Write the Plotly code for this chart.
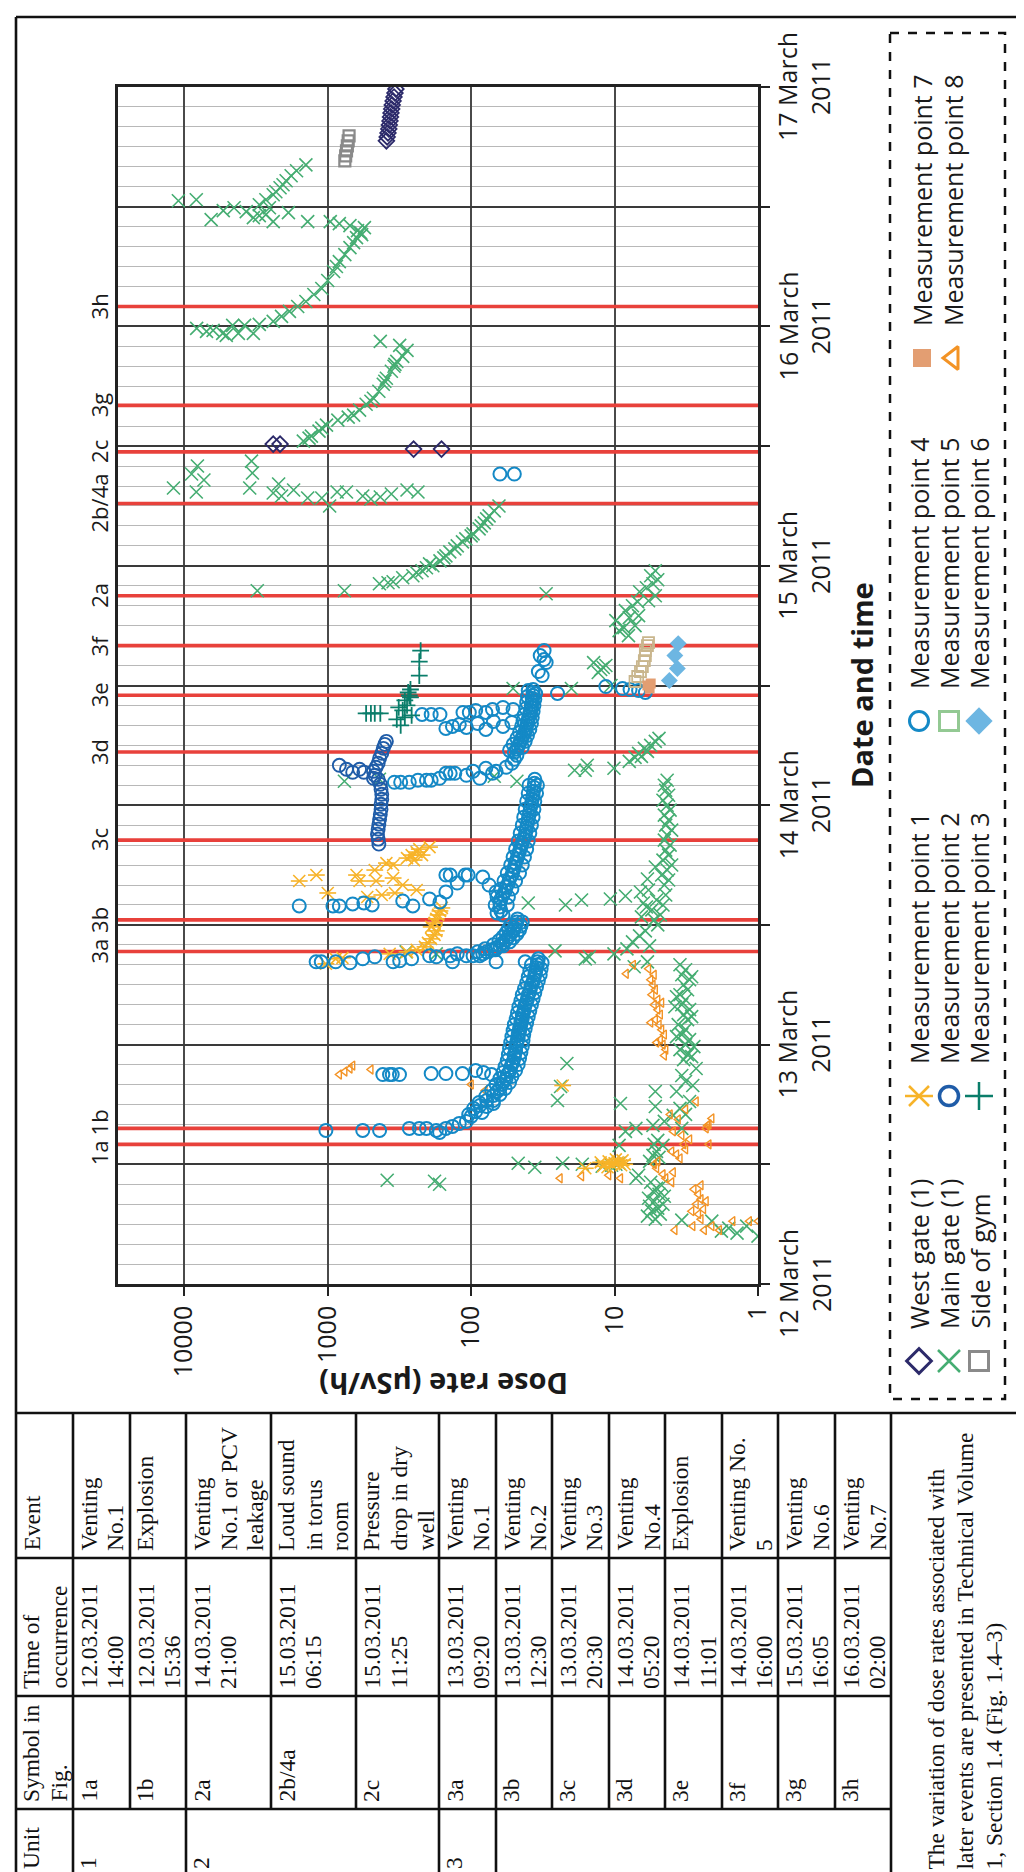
import math
from datetime import datetime, timedelta
import plotly.graph_objects as go

W, H = 1024, 1872
BASE = datetime(2011, 3, 12)

# ---------------- data (hours after 12 March 2011 00:00, dose rate in uSv/h) ----------------
main_gate = [
    (4.8, 1.0), (5.1, 1.4), (5.3, 1.8), (5.6, 1.6), (5.8, 1.2), (6.3, 2.1), (6.4, 3.4),
    (6.5, 5.2), (6.8, 5.9), (7.0, 4.8), (7.3, 5.5), (7.6, 5.0), (7.8, 5.7), (8.0, 4.6), (8.3, 5.3),
    (8.6, 5.8), (8.8, 4.5), (9.0, 4.9), (9.3, 5.4), (9.6, 5.1), (9.9, 4.7), (10.2, 5.6),
    (10.0, 166), (10.3, 180), (10.4, 385),
    (10.6, 7.1), (10.9, 6.8), (11.7, 36), (11.8, 12.2), (11.9, 10.5), (12.0, 9.8), (12.0, 16.8),
    (12.1, 23), (12.1, 47), (12.1, 9.3),
    (12.3, 5.7), (12.7, 4.9), (12.9, 5.4), (13.3, 5.1), (13.9, 4.6), (13.9, 9.3), (14.0, 5.3),
    (14.4, 5.0), (15.3, 8.4), (15.6, 7.1), (15.9, 5.4),
    (15.6, 3.4), (16.3, 4.5), (16.9, 3.9), (17.0, 3.2), (17.6, 3.5), (17.8, 5.2), (18.1, 9.1),
    (18.3, 3.0), (19.3, 3.7), (19.3, 5.2), (19.9, 2.85), (20.3, 3.2), (20.9, 3.4), (21.6, 2.7),
    (18.4, 25), (19.8, 23.8), (22.1, 21.5),
    (22.5, 3.3), (22.8, 2.9), (23.0, 3.1), (23.5, 3.5), (23.8, 2.8), (24.0, 3.2), (24.5, 3.0),
    (24.8, 3.7), (25.0, 3.4), (25.5, 3.2), (26.0, 3.6), (26.5, 3.1), (26.8, 2.9), (27.0, 3.3),
    (27.5, 3.0), (27.8, 3.8), (28.0, 3.4), (28.5, 3.2), (28.8, 3.7), (29.0, 3.5), (29.5, 3.1),
    (30.0, 3.3), (30.5, 3.0), (30.8, 2.9), (31.0, 3.4), (31.5, 3.2), (32.0, 3.5),
    (31.8, 7.3), (32.3, 5.9), (32.6, 16), (32.8, 15), (33.1, 10.1), (33.4, 26), (33.1, 175), (33.3, 284),
    (33.6, 8.2), (33.9, 5.7), (34.3, 7.5), (34.9, 6.7), (35.4, 6.1),
    (36.0, 5.0), (36.5, 5.3), (36.8, 6.5), (37.0, 4.8), (37.5, 5.5), (37.8, 6.0), (38.0, 4.6),
    (38.2, 6.3), (38.5, 5.1), (39.0, 4.4), (39.3, 6.6), (39.5, 5.8), (40.0, 4.5), (40.5, 4.2),
    (40.6, 5.9), (41.0, 4.7), (41.5, 4.3), (41.8, 5.2), (42.0, 4.0), (42.5, 4.6), (43.0, 4.2),
    (43.5, 4.4), (44.0, 4.1), (44.5, 4.5), (45.0, 4.3), (45.5, 4.0), (46.0, 4.4), (46.5, 4.2),
    (47.0, 4.5), (47.5, 4.1), (48.0, 4.3), (48.5, 4.6), (49.0, 4.2), (49.5, 4.4), (50.0, 4.5), (50.5, 4.3),
    (38.0, 22), (38.2, 40), (38.5, 17), (38.6, 10.7), (38.9, 8.4),
    (50.4, 48), (50.4, 765), (50.6, 436), (50.9, 69),
    (51.5, 19), (51.5, 16), (51.7, 10.1), (52.0, 15.5), (52.4, 7.9), (52.8, 7.2), (52.9, 6.5),
    (53.2, 6.8), (53.4, 5.9), (53.7, 6.2), (54.0, 5.6), (54.4, 5.2), (54.7, 4.9),
    (59.7, 51), (59.7, 20), (60.0, 10.6), (61.3, 13), (61.6, 12.5), (61.8, 12), (62.0, 11.5), (62.3, 14),
    (65.0, 8.0), (65.5, 9.3), (65.8, 8.6), (66.0, 7.2), (66.5, 9.8), (66.8, 7.9), (67.0, 6.8),
    (67.5, 8.4), (68.0, 7.5), (68.4, 6.9),
    (68.5, 5.8), (69.0, 5.2), (69.4, 6.7), (69.8, 6.0), (70.2, 5.4), (70.6, 5.0), (71.0, 5.6),
    (71.5, 5.2), (69.2, 30),
    (69.5, 3100), (69.5, 765), (70.2, 436), (70.3, 380), (70.4, 350),
    (70.8, 300), (71.0, 255), (71.3, 240), (71.5, 220), (71.8, 205), (72.0, 185), (72.2, 195),
    (72.5, 165), (72.8, 155), (73.0, 150), (73.4, 141), (73.7, 130), (74.0, 125), (74.4, 115),
    (74.7, 109), (75.0, 100), (75.2, 97), (75.7, 88), (76.0, 85), (76.3, 81), (76.7, 78),
    (77.0, 75), (77.5, 69), (78.0, 64),
    (78.0, 970), (78.7, 500), (78.8, 1380), (78.8, 1100), (78.9, 430), (79.0, 2100), (79.0, 570),
    (79.2, 360), (79.3, 2400), (79.4, 8250), (79.4, 860), (79.4, 740), (79.4, 235), (79.6, 1730),
    (79.6, 280), (79.8, 11900), (79.8, 3500), (80.2, 2200), (80.6, 7300), (81.2, 8900),
    (81.3, 3350), (82.0, 8100), (82.5, 3400),
    (84.5, 1480), (84.8, 1350), (85.0, 1300), (85.5, 1150), (85.8, 1100), (86.1, 1020),
    (86.6, 850), (86.9, 720), (87.1, 660), (87.6, 600), (88.2, 540), (88.5, 500), (88.8, 480),
    (89.5, 440), (90.2, 410), (90.5, 400), (90.8, 390), (91.5, 360), (92.0, 345), (92.2, 340),
    (92.5, 330), (93.0, 300), (93.6, 280), (94.1, 315), (94.5, 430),
    (95.1, 5100), (95.3, 5400), (95.3, 4200), (95.3, 3300), (95.5, 7000), (95.6, 6300),
    (95.8, 8200), (96.1, 4600), (96.1, 3800), (96.2, 3000),
    (96.5, 2400), (97.0, 2100), (97.5, 1850), (98.0, 1620), (98.5, 1420), (99.2, 1250),
    (99.8, 1100), (100.6, 1000), (101.5, 910), (102.0, 870), (102.5, 830), (103.2, 760),
    (103.9, 700), (104.4, 660), (104.9, 630), (105.2, 580), (105.4, 590), (105.6, 620),
    (105.9, 555), (106.1, 700), (106.3, 830), (106.5, 960),
    (106.5, 1380), (106.5, 2400), (106.7, 6500), (106.9, 3300), (107.1, 3000), (107.2, 2700),
    (107.4, 1880), (107.5, 3700), (107.6, 5350), (107.9, 4500), (107.9, 2550), (108.6, 11000),
    (108.7, 8250),
    (108.2, 3000), (108.7, 2700), (109.2, 2400), (109.5, 2300), (109.9, 2150), (110.2, 2050),
    (110.6, 1950), (111.1, 1800), (111.6, 1650), (112.2, 1420),
]

mp4 = [
    (15.4, 1030), (15.4, 570), (15.4, 435), (15.6, 270), (15.6, 230), (15.6, 205), (15.4, 175),
    (15.2, 166), (15.6, 150), (15.8, 135), (16.1, 121), (16.3, 108),
    (16.8, 100), (17.3, 93), (17.9, 87), (18.1, 70), (18.4, 78), (18.9, 70), (19.3, 66), (19.6, 63),
    (20.0, 61), (20.3, 59), (20.6, 57), (21.0, 56), (21.3, 54), (21.7, 53), (22.0, 52), (22.3, 51),
    (22.7, 50), (23.0, 50), (23.3, 49), (23.7, 49), (24.0, 48), (24.3, 48), (24.6, 47), (25.0, 47),
    (25.3, 46), (25.6, 46), (26.0, 45), (26.3, 45), (26.6, 44), (27.0, 44), (27.3, 43), (27.7, 42.5),
    (28.0, 42), (28.3, 41), (28.6, 40.5), (29.0, 40), (29.3, 39), (29.7, 38.5), (30.0, 38), (30.3, 37),
    (30.6, 36.5), (31.0, 36), (31.3, 35.5), (31.7, 35), (32.0, 34.5), (32.3, 34.5), (32.6, 34), (32.3, 42),
    (17.0, 104), (17.6, 96), (18.2, 88), (18.8, 79), (19.4, 72), (20.0, 67), (20.6, 63), (21.2, 60),
    (21.8, 58), (22.4, 56), (23.0, 55), (23.6, 54), (24.2, 53), (24.8, 52), (25.4, 51), (26.0, 50),
    (26.6, 48.5), (27.2, 47.5), (27.8, 46.5), (28.4, 45), (29.0, 44), (29.6, 42.5), (30.2, 41),
    (30.8, 40), (31.4, 39), (32.0, 38),
    (17.2, 84), (17.8, 78), (18.4, 70), (19.0, 63), (19.6, 58), (20.2, 54), (20.8, 52), (21.4, 49),
    (22.0, 47), (22.6, 46), (23.2, 45), (23.8, 44), (24.4, 43.5), (25.0, 43), (25.6, 42), (26.2, 41),
    (26.8, 40), (27.4, 39), (28.0, 38), (28.6, 37), (29.2, 36), (29.8, 35), (30.4, 34), (31.0, 33),
    (31.6, 32.5), (32.2, 32),
    (21.0, 413), (21.0, 371), (21.0, 355), (21.0, 316), (21.1, 190), (21.1, 150), (21.1, 115),
    (21.4, 93), (21.2, 82), (21.0, 72),
    (32.3, 1205), (32.3, 1110), (32.3, 880), (32.2, 700), (32.6, 570), (32.8, 470), (32.3, 350),
    (32.4, 315), (32.6, 260), (32.9, 195), (32.8, 175), (32.9, 140), (32.3, 135), (33.1, 125),
    (32.9, 108), (32.9, 97), (32.9, 87), (32.3, 67),
    (33.1, 83), (33.3, 78), (33.5, 72), (33.7, 67), (33.9, 63), (34.2, 60), (34.5, 57), (34.8, 55),
    (35.1, 53), (35.4, 51), (35.7, 50), (36.0, 49), (36.3, 48), (36.6, 47.5),
    (33.3, 90), (33.6, 80), (34.0, 70), (34.4, 64), (34.8, 60), (35.2, 57), (35.6, 55), (36.0, 53),
    (33.5, 68), (33.9, 60), (34.3, 54), (34.7, 51), (35.1, 48), (35.5, 46), (35.9, 45), (36.3, 44),
    (37.9, 1580), (37.9, 920), (37.9, 830), (38.1, 670), (38.2, 560), (38.0, 490), (38.4, 300),
    (37.9, 255), (38.6, 195), (38.3, 165), (39.3, 150), (41.0, 140), (41.0, 150), (40.2, 125),
    (41.0, 110), (41.0, 105), (40.8, 83), (40.0, 75), (39.3, 67),
    (37.0, 60), (37.4, 62), (37.8, 63), (38.2, 63), (38.6, 62), (39.0, 60), (39.4, 58), (39.8, 57),
    (40.2, 55), (40.6, 54), (41.0, 52), (41.4, 51), (41.8, 50), (42.2, 49), (42.6, 48), (43.0, 47),
    (43.4, 46), (43.8, 45), (44.2, 44), (44.6, 43), (45.0, 42), (45.4, 41.5), (45.8, 41), (46.2, 40.5),
    (46.6, 40), (47.0, 39.5), (47.4, 39), (47.8, 38.5), (48.2, 38), (48.6, 37.5), (49.0, 37),
    (49.4, 36.8), (49.8, 36.5), (50.2, 36.2), (50.6, 36),
    (37.2, 66), (38.0, 68), (38.8, 66), (39.6, 62), (40.4, 59), (41.2, 56), (42.0, 53), (42.8, 51),
    (43.6, 49), (44.4, 47), (45.2, 45.5), (46.0, 44), (46.8, 43), (47.6, 42), (48.4, 41), (49.2, 40),
    (50.0, 39.5),
    (38.0, 56), (38.8, 55), (39.6, 52), (40.4, 49), (41.2, 46), (42.0, 44), (42.8, 42.5), (43.6, 41),
    (44.4, 40), (45.2, 39), (46.0, 38), (46.8, 37), (47.6, 36.5), (48.4, 36), (49.2, 35), (50.0, 34.5),
    (50.3, 343), (50.3, 310), (50.3, 270), (50.5, 235), (50.5, 205), (50.5, 190), (50.7, 166),
    (51.2, 150), (51.2, 140), (51.2, 130), (51.0, 108), (51.4, 97), (50.7, 87), (51.7, 79),
    (51.2, 71), (51.4, 67), (51.8, 57), (52.2, 52), (52.6, 50), (53.0, 48),
    (53.3, 50), (53.6, 48), (53.9, 47), (54.2, 46), (54.5, 45), (54.8, 44), (55.1, 43), (55.4, 42),
    (55.7, 41.5), (56.0, 41), (56.3, 40.5), (56.6, 40), (56.9, 39.5), (57.2, 39), (57.5, 38.5),
    (57.8, 38), (58.1, 38), (58.4, 37.5), (58.7, 37.5), (59.0, 37), (59.3, 37), (59.6, 37),
    (53.5, 54), (54.1, 51), (54.7, 48), (55.3, 46), (55.9, 44.5), (56.5, 43.5), (57.1, 42.5),
    (57.7, 41.5), (58.3, 41), (58.9, 40.5), (59.5, 40),
    (53.8, 44), (54.4, 42), (55.0, 40.5), (55.6, 39), (56.2, 38), (56.8, 37.5), (57.4, 37),
    (58.0, 36.5), (58.6, 36), (59.2, 35.5),
    (57.1, 220), (57.1, 190), (57.1, 165), (55.7, 150), (55.9, 135), (56.1, 121), (57.3, 114),
    (57.3, 103), (57.5, 93), (57.3, 79), (57.6, 71), (57.8, 60), (57.6, 51), (55.8, 108),
    (56.2, 90), (55.6, 79), (56.4, 70), (55.9, 60), (56.3, 52),
    (59.3, 6.1), (59.5, 6.8), (59.6, 7.8), (59.7, 8.8), (59.9, 11.5), (59.2, 25), (61.0, 32),
    (61.4, 34), (62.3, 30), (62.6, 31), (63.0, 33), (63.5, 31),
    (81.2, 63), (81.2, 50),
]

mp2 = [
    (44.1, 440), (44.6, 445), (45.1, 450), (45.6, 445), (46.1, 440), (46.6, 435), (47.1, 430),
    (47.6, 425), (48.1, 425), (48.6, 420), (49.1, 420), (49.6, 425), (50.1, 430), (50.6, 445),
    (51.0, 470), (51.4, 480), (51.8, 460), (52.2, 445), (52.7, 435), (53.2, 420), (53.7, 410),
    (54.1, 400), (54.4, 390), (52.0, 830), (51.6, 740), (51.3, 670), (51.6, 600), (51.3, 560),
    (50.7, 480),
]

mp1 = [
    (11.6, 16), (11.7, 11.2), (11.8, 12), (11.9, 9.0), (12.0, 10.5), (12.0, 8.5), (12.1, 10.0),
    (12.2, 9.5), (12.2, 12.5), (12.3, 11), (12.4, 8.8), (12.5, 9.8), (19.9, 23),
    (32.1, 1030), (32.6, 880), (32.7, 790), (33.1, 370), (33.3, 280), (33.5, 240), (33.8, 210),
    (34.2, 200), (34.6, 190), (35.0, 180), (35.4, 175), (35.8, 190), (36.2, 180), (36.6, 175),
    (37.0, 170), (37.4, 165), (37.7, 160),
    (38.8, 530), (39.0, 420), (39.2, 1000), (39.2, 340), (39.5, 240), (40.0, 300), (40.4, 1580),
    (40.4, 600), (40.4, 460), (40.7, 350), (41.0, 1200), (41.0, 630), (41.5, 470), (42.0, 350),
    (42.2, 390), (42.5, 250), (42.7, 280), (43.0, 260), (43.0, 220), (43.3, 240), (43.6, 230),
    (43.8, 195),
]

mp8 = [
    (6.3, 1.0), (6.3, 1.15), (6.3, 1.5), (5.4, 1.86), (5.4, 2.37), (5.8, 2.85), (5.4, 3.8), (5.8, 2.1),
    (6.5, 2.5), (7.0, 2.6), (7.5, 2.4), (8.0, 2.7), (8.5, 2.5), (9.0, 2.6), (9.5, 2.8), (9.9, 2.5),
    (7.3, 2.9), (8.3, 2.3),
    (10.2, 4.0), (10.6, 4.4), (11.0, 4.6), (11.2, 3.9), (11.6, 5.1), (12.0, 5.3), (12.3, 5.0),
    (12.6, 3.5), (13.0, 3.7), (13.5, 3.2), (14.0, 3.3), (14.5, 3.0), (14.9, 3.4), (13.3, 4.0),
    (15.6, 2.3), (16.0, 2.2), (16.6, 2.1), (15.9, 2.25), (14.0, 2.2), (18.3, 2.7), (17.5, 3.2),
    (16.5, 3.6), (17.0, 4.1), (15.3, 3.9),
    (22.9, 4.5), (23.5, 4.4), (24.0, 4.6), (24.5, 4.8), (25.0, 4.5), (25.5, 4.7), (26.0, 4.9),
    (26.5, 5.2), (27.0, 4.8), (27.5, 5.0), (28.0, 5.3), (28.5, 5.0), (29.0, 5.5), (29.5, 5.2),
    (30.0, 5.4), (30.5, 5.6), (31.0, 5.3), (31.6, 5.8), (31.1, 8.3), (32.0, 7.4), (26.2, 5.6),
    (24.2, 5.1), (28.2, 4.7),
    (10.6, 24), (10.8, 17), (10.6, 9.1), (10.9, 11),
    (21.0, 830), (21.3, 760), (21.6, 700), (21.9, 670), (21.5, 500),
    (20.0, 100), (19.4, 80),
]

mp3 = [
    (57.2, 540), (57.2, 500), (57.2, 470), (57.2, 430), (56.6, 330), (56.0, 310), (57.5, 300),
    (58.0, 280), (58.5, 290), (59.0, 270), (59.3, 275), (58.8, 265), (57.8, 320), (56.8, 290),
    (57.0, 260), (59.6, 265), (61.0, 230), (62.4, 230), (63.5, 225),
]

mp5 = [(60.4, 7.2), (60.9, 6.9), (61.4, 6.6), (61.9, 6.4), (62.5, 6.2), (63.0, 6.1), (63.5, 6.1),
       (64.0, 5.9), (64.3, 5.8)]
mp6 = [(64.2, 3.6), (63.0, 3.8), (61.7, 3.65), (60.5, 4.15)]
mp7 = [(59.7, 5.7), (60.0, 5.9), (60.2, 5.6)]

west_gate = [
    (84.2, 2400), (84.2, 2150), (83.7, 252), (83.7, 161),
    (114.6, 390), (115.0, 385), (115.4, 380), (115.8, 375), (116.2, 372), (116.6, 368),
    (117.0, 365), (117.4, 362), (117.8, 358), (118.2, 355), (118.6, 350), (119.0, 345),
    (119.4, 340), (119.8, 335),
]
side_of_gym = [(112.6, 760), (113.1, 750), (113.6, 740), (114.1, 730), (114.6, 720), (115.1, 710)]

# table content
table_units = ['1', '', '2', '', '', '3', '', '', '', '', '', '', '']
table_symbols = ['1a', '1b', '2a', '2b/4a', '2c', '3a', '3b', '3c', '3d', '3e', '3f', '3g', '3h']
table_times = ['12.03.2011 14:00', '12.03.2011 15:36', '14.03.2011 21:00', '15.03.2011 06:15',
               '15.03.2011 11:25', '13.03.2011 09:20', '13.03.2011 12:30', '13.03.2011 20:30',
               '14.03.2011 05:20', '14.03.2011 11:01', '14.03.2011 16:00', '15.03.2011 16:05',
               '16.03.2011 02:00']
table_events = [['Venting', 'No.1'], ['Explosion'], ['Venting', 'No.1 or PCV', 'leakage'],
                ['Loud sound', 'in torus', 'room'], ['Pressure', 'drop in dry', 'well'],
                ['Venting', 'No.1'], ['Venting', 'No.2'], ['Venting', 'No.3'], ['Venting', 'No.4'],
                ['Explosion'], ['Venting No.', '5'], ['Venting', 'No.6'], ['Venting', 'No.7']]
table_headers = [['Unit'], ['Symbol in', 'Fig.'], ['Time of', 'occurrence'], ['Event']]
note_lines = ['The variation of dose rates associated with',
              'later events are presented in Technical Volume',
              '1, Section 1.4 (Fig. 1.4\u20133)']

dose_ticks = [1, 10, 100, 1000, 10000]
date_labels = ['12 March<br>2011', '13 March<br>2011', '14 March<br>2011',
               '15 March<br>2011', '16 March<br>2011', '17 March<br>2011']

# ---------------- layout geometry (pixels) ----------------
PX0, PX1 = 110, 750
PY0, PY1 = 79, 1276
DOSE_MAX = 29000

SANS = 'Open Sans'
SERIF = 'Liberation Serif'
INK = '#1a1a1a'


def when(h):
    return BASE + timedelta(hours=h)


def parse_time(s):
    return datetime.strptime(s, '%d.%m.%Y %H:%M')


fig = go.Figure()

# event lines (drawn first: above the grid, below the markers)
ev_x, ev_y = [], []
for ts in table_times:
    tt = parse_time(ts)
    ev_x += [DOSE_MAX, 1, None]
    ev_y += [tt, tt, None]
fig.add_trace(go.Scatter(x=ev_x, y=ev_y, mode='lines', line=dict(color='#e8413b', width=3.6),
                         showlegend=False, hoverinfo='skip', xaxis='x', yaxis='y'))


def add_series(pairs, symbol, color, size, lw):
    fig.add_trace(go.Scatter(
        x=[p[1] for p in pairs], y=[when(p[0]) for p in pairs], mode='markers',
        marker=dict(symbol=symbol, size=size, color=color, line=dict(color=color, width=lw)),
        showlegend=False, hoverinfo='skip', xaxis='x', yaxis='y'))


C_MG, C_MP4, C_MP2, C_MP1, C_MP8 = '#45ad72', '#1489c6', '#1f5ca8', '#f7b329', '#f39325'
C_MP3, C_MP5D, C_MP5L, C_MP6, C_MP7 = '#0a7d6a', '#c9b68d', '#93c993', '#6db6e2', '#e39e72'
C_WG, C_SG = '#2c2a6a', '#8a8a8a'

add_series(main_gate, 'x-thin-open', C_MG, 13, 1.6)
add_series(mp8, 'triangle-left-open', C_MP8, 8, 1.4)
add_series(mp1, 'x-thin-open', C_MP1, 12, 1.6)
add_series(mp1, 'line-ew-open', C_MP1, 12, 1.6)
add_series(mp4, 'circle-open', C_MP4, 13, 2.0)
add_series(mp2, 'circle-open', C_MP2, 13, 1.9)
add_series(mp3, 'cross-thin-open', C_MP3, 12, 1.8)
add_series(mp5, 'square-open', C_MP5D, 11, 1.8)
add_series(mp7, 'square', C_MP7, 10, 0)
add_series(mp6, 'diamond', C_MP6, 13, 0)
add_series(west_gate, 'diamond-open', C_WG, 12, 1.8)
add_series(side_of_gym, 'square-open', C_SG, 11, 2.2)

shapes = []
annotations = []

# event labels
for sym, ts in zip(table_symbols, table_times):
    tt = parse_time(ts)
    shift = {'1a': -9, '1b': 6}.get(sym, 0)
    annotations.append(dict(xref='x2', yref='y', x=91, y=tt, text=sym, textangle=-90,
                            showarrow=False, xanchor='center', yanchor='middle', yshift=shift,
                            font=dict(family=SANS, size=22, color=INK)))

# date labels beside the right-hand axis (centred two-line labels)
for i, lab in enumerate(date_labels):
    annotations.append(dict(xref='x2', yref='y', x=796, y=when(24 * i), text=lab, textangle=-90,
                            showarrow=False, xanchor='center', yanchor='middle', align='center',
                            font=dict(family=SANS, size=25, color=INK)))

# axis titles
annotations.append(dict(xref='x2', yref='y2', x=853, y=677, text='<b>Date and time</b>',
                        textangle=-90, showarrow=False, font=dict(family=SANS, size=29, color=INK)))
annotations.append(dict(xref='x2', yref='y2', x=436, y=1377, text='<b>Dose rate (\u03bcSv/h)</b>',
                        textangle=180, showarrow=False, font=dict(family=SANS, size=29, color=INK)))

# ---------------- legend (dashed box, rotated entries) ----------------
shapes.append(dict(type='rect', xref='x2', yref='y2', x0=882, x1=997, y0=25, y1=1391,
                   line=dict(color='#111', width=2.5, dash='dash')))
legend_groups = [
    (1353, [(911, 'West gate (1)', [('diamond-open', C_WG, 19, 3)]),
            (941, 'Main gate (1)', [('x-thin-open', C_MG, 22, 2.5)]),
            (971, 'Side of gym', [('square-open', C_SG, 19, 3)])]),
    (1088, [(911, 'Measurement point 1', [('x-thin-open', C_MP1, 20, 2.5), ('line-ew-open', C_MP1, 20, 2.5)]),
            (941, 'Measurement point 2', [('circle-open', C_MP2, 19, 3.5)]),
            (971, 'Measurement point 3', [('cross-thin-open', C_MP3, 20, 2.5)])]),
    (713, [(911, 'Measurement point 4', [('circle-open', C_MP4, 19, 3)]),
           (941, 'Measurement point 5', [('square-open', C_MP5L, 19, 3)]),
           (971, 'Measurement point 6', [('diamond', C_MP6, 21, 0)])]),
    (350, [(914, 'Measurement point 7', [('square', C_MP7, 18, 0)]),
           (945, 'Measurement point 8', [('triangle-left-open', C_MP8, 20, 3)])]),
]
for my, entries in legend_groups:
    for cx, label, marks in entries:
        for sym, col, sz, lw in marks:
            fig.add_trace(go.Scatter(x=[cx], y=[my], mode='markers', xaxis='x2', yaxis='y2',
                                     marker=dict(symbol=sym, size=sz, color=col,
                                                 line=dict(color=col, width=lw)),
                                     showlegend=False, hoverinfo='skip'))
        annotations.append(dict(xref='x2', yref='y2', x=cx, y=my - 30, text=label, textangle=-90,
                                showarrow=False, xanchor='center', yanchor='bottom',
                                font=dict(family=SANS, size=25, color=INK)))

# ---------------- frame and table ----------------
LINE = dict(color='#111', width=2.6)


def hline(x0, x1, y):
    shapes.append(dict(type='line', xref='paper', yref='paper', x0=x0 / W, x1=x1 / W,
                       y0=1 - y / H, y1=1 - y / H, line=LINE))


def vline(x, y0, y1):
    shapes.append(dict(type='line', xref='paper', yref='paper', x0=x / W, x1=x / W,
                       y0=1 - y0 / H, y1=1 - y1 / H, line=LINE))


FL, FR, FT, FB = 8, 1020, 9, 1868
TT = 1405
col_edges = [1405, 1550, 1688, 1801, 1868]        # Event | Time | Symbol | Unit
row_edges = [8, 65, 122, 178, 263, 348, 431, 488, 544, 601, 657, 714, 770, 827, 883]

hline(FL, FR, FT)
hline(FL, FR, TT)
hline(FL, FR, FB)
vline(FL, FT, FB)
vline(FR, FT, FB)
for y in col_edges[1:-1]:
    hline(FL, row_edges[-1], y)
for x in row_edges[1:]:
    vline(x, TT, col_edges[3])
for x in [65, 178, 431, 488, 883]:
    vline(x, col_edges[3], FB)

T_FONT = dict(family=SERIF, size=23.5, color='#111')


def cell_text(lines, x0, col_bottom):
    for i, line in enumerate(lines):
        annotations.append(dict(xref='x2', yref='y2', x=x0 + 15 + 27 * i, y=col_bottom - 5,
                                text=line, textangle=-90, showarrow=False,
                                xanchor='center', yanchor='bottom', font=T_FONT))


header_bottoms = [col_edges[4], col_edges[3], col_edges[2], col_edges[1]]
for lines, yb in zip(table_headers, header_bottoms):
    cell_text(lines, row_edges[0], yb)

for i in range(len(table_symbols)):
    x0 = row_edges[i + 1]
    cell_text(table_events[i], x0, col_edges[1])
    cell_text(table_times[i].split(' '), x0, col_edges[2])
    cell_text([table_symbols[i]], x0, col_edges[3])
    if table_units[i]:
        cell_text([table_units[i]], x0, col_edges[4])

for i, line in enumerate(note_lines):
    annotations.append(dict(xref='x2', yref='y2', x=927 + 29 * i, y=1864, text=line,
                            textangle=-90, showarrow=False, xanchor='center', yanchor='bottom',
                            font=T_FONT))

# ---------------- axes ----------------
date_ticks = [when(12 * i) for i in range(11)]

fig.update_layout(
    width=W, height=H, margin=dict(l=0, r=0, t=0, b=0),
    paper_bgcolor='white', plot_bgcolor='rgba(0,0,0,0)', showlegend=False,
    xaxis=dict(domain=[PX0 / W, PX1 / W], type='log', range=[math.log10(DOSE_MAX), 0],
               tickvals=dose_ticks, ticktext=[str(v) for v in dose_ticks], tickangle=-90,
               ticks='outside', ticklen=9, tickwidth=2, tickcolor='#222',
               showgrid=True, gridcolor='#4a4a4a', gridwidth=1.6,
               showline=True, linecolor='#222', linewidth=2.6, mirror=True,
               zeroline=False, automargin=False, anchor='y',
               tickfont=dict(family=SANS, size=25, color=INK)),
    yaxis=dict(domain=[1 - PY1 / H, 1 - PY0 / H], type='date', range=[when(0), when(120)],
               side='right', tickvals=date_ticks, showticklabels=False,
               ticks='outside', ticklen=9, tickwidth=2, tickcolor='#222',
               showgrid=True, gridcolor='#3a3a3a', gridwidth=1.6,
               minor=dict(dtick=2 * 3600 * 1000, tick0=when(0), showgrid=True,
                          gridcolor='#b8b8b8', gridwidth=1.4, ticks=''),
               showline=True, linecolor='#222', linewidth=2.6, mirror=True,
               zeroline=False, automargin=False, anchor='x'),
    xaxis2=dict(domain=[0, 1], range=[0, W], visible=False, anchor='y2', fixedrange=True),
    yaxis2=dict(domain=[0, 1], range=[H, 0], visible=False, anchor='x2', fixedrange=True),
    shapes=shapes, annotations=annotations,
)

fig.write_html('out.html')
